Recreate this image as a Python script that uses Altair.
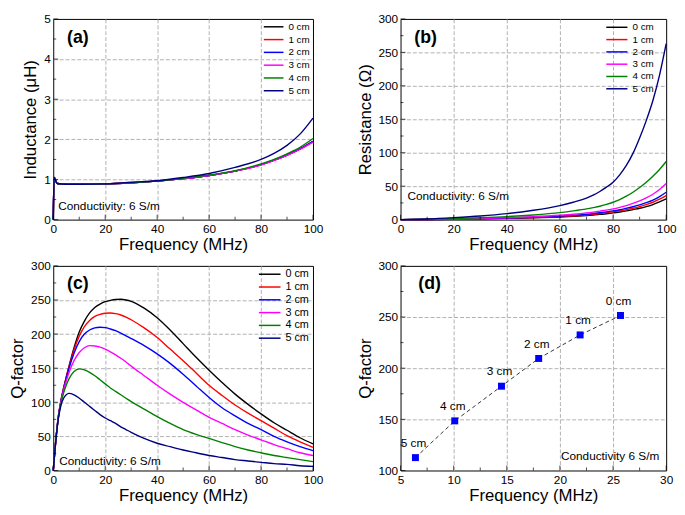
import altair as alt
import pandas as pd

FONT = "Liberation Sans"
DIST = ["0 cm", "1 cm", "2 cm", "3 cm", "4 cm", "5 cm"]
COLORS = ["#000000", "#FF0000", "#0000FF", "#FF00FF", "#008000", "#000080"]

# ---------------- (a) Inductance (uH) ----------------
IND_F = [0, 0.3, 1.5, 5, 10, 20, 30, 40, 50, 60, 70, 80, 85, 90, 95, 100]
IND_0 = [0, 1.05, 0.90, 0.88, 0.88, 0.89, 0.92, 0.96, 1.02, 1.10, 1.21, 1.37, 1.48, 1.61, 1.76, 1.95]
IND_1 = [0, 1.05, 0.90, 0.88, 0.88, 0.89, 0.92, 0.96, 1.02, 1.10, 1.21, 1.37, 1.48, 1.61, 1.76, 1.94]
IND_2 = [0, 1.05, 0.90, 0.88, 0.88, 0.89, 0.92, 0.96, 1.02, 1.10, 1.21, 1.37, 1.48, 1.61, 1.76, 1.95]
IND_3 = [0, 1.05, 0.90, 0.88, 0.88, 0.89, 0.92, 0.96, 1.02, 1.10, 1.21, 1.36, 1.47, 1.60, 1.75, 1.93]
IND_4 = [0, 1.05, 0.90, 0.88, 0.88, 0.89, 0.92, 0.96, 1.03, 1.11, 1.22, 1.39, 1.50, 1.64, 1.80, 2.02]
IND_5 = [0, 1.05, 0.90, 0.88, 0.88, 0.89, 0.93, 0.97, 1.05, 1.15, 1.30, 1.50, 1.65, 1.85, 2.13, 2.53]

# ---------------- (b) Resistance (Ohm) ----------------
RES_F = [0, 10, 20, 30, 40, 50, 60, 65, 70, 72.5, 75, 77.5, 80, 82.5, 85, 87.5, 90, 92.5, 95, 97.5, 100]
RES_0 = [0, 0.2, 0.7, 1.3, 1.9, 2.6, 4.0, 4.9, 6.0, 6.8, 7.8, 8.8, 10, 11.4, 13, 15, 17, 19.5, 22.5, 26.5, 31]
RES_1 = [0, 0.2, 0.8, 1.4, 2.1, 3.0, 4.6, 5.6, 7.0, 8.0, 9.0, 10.2, 11.5, 13.1, 15, 17, 19.5, 22.5, 26, 30.5, 36]
RES_2 = [0, 0.2, 0.8, 1.5, 2.3, 3.5, 5.3, 6.5, 8.0, 9.1, 10.3, 11.6, 13, 14.8, 17, 19.3, 22, 25.3, 29, 34.5, 41]
RES_3 = [0, 0.3, 1.0, 1.8, 2.8, 4.3, 6.5, 8.0, 10, 11.3, 12.8, 14.3, 16, 18.3, 21, 24.3, 28, 32.5, 38, 45, 54]
RES_4 = [0, 0.5, 1.5, 2.8, 4.5, 7.0, 10.5, 13, 16, 17.9, 20, 22.8, 26, 30, 35, 41, 48, 56, 65, 75, 87]
RES_5 = [0, 1.0, 3.0, 5.5, 9.0, 14, 21, 26, 32, 36.5, 42, 48.5, 56, 67, 81, 99, 122, 148, 178, 216, 263]

# ---------------- (c) Q-factor vs frequency ----------------
Q_F = [0, 1, 2, 3, 4, 5, 6, 8, 10, 12, 14, 16, 18, 20, 22, 24, 26, 28, 30,
       35, 40, 45, 50, 55, 60, 65, 70, 75, 80, 85, 90, 95, 100]
Q_0 = [0, 45, 80, 103, 121, 137, 152, 180, 203, 219, 231, 239, 244, 247.5, 249.5, 250.7, 251, 250, 248,
       238, 224, 206, 186, 166, 147, 129, 112, 97, 83, 70, 59, 48, 39]
Q_1 = [0, 45, 80, 103, 121, 137, 151, 177, 197, 211, 220, 226, 229, 230.5, 231, 230, 228, 225, 221,
       209, 195, 178, 161, 143, 125, 110, 96, 84, 73, 62, 51, 42, 34]
Q_2 = [0, 45, 80, 102, 120, 135, 149, 172, 189, 200, 206, 209, 210, 209.5, 207.5, 205, 201.5, 197.5, 193.5,
       183, 171, 157, 141, 124, 107, 92, 80, 69, 60, 50, 42, 35, 29]
Q_3 = [0, 45, 79, 101, 118, 131, 143, 161, 173, 180, 183, 182.5, 181, 178, 174, 169.5, 164.5, 159, 153,
       139, 125, 112, 100, 89, 78, 69, 60, 52, 45, 38, 32, 26, 22]
Q_4 = [0, 45, 78, 99, 114, 125, 134, 145, 149, 147.5, 144, 139, 133, 127, 121, 116, 111, 106, 101,
       90, 79, 69, 60, 53, 47, 41, 35, 30, 26, 22, 19, 16, 13]
Q_5 = [0, 44, 77, 96, 106, 111, 113, 111, 106, 100, 94, 88, 82, 77, 73, 69, 64, 60, 56,
       47, 40, 35, 30, 26, 22, 19, 16, 14, 12, 10, 9, 7, 6]

# ---------------- (d) Peak Q vs peak frequency ----------------
PK_LABEL = ["5 cm", "4 cm", "3 cm", "2 cm", "1 cm", "0 cm"]
PK_F = [6.4, 10.1, 14.5, 18.0, 21.9, 25.7]
PK_Q = [112.6, 148.5, 182.4, 209.5, 232.5, 251.5]

COND_TEXT = "Conductivity: 6 S/m"
COND_TEXT_D = "Conductivity 6 S/m"

W1, W2 = 264, 270
H1, H2 = 204, 208
GRID_COLOR = "#b0b0b0"


def long_df(freqs, series):
    rows = []
    for name, vals in zip(DIST, series):
        for f, v in zip(freqs, vals):
            rows.append({"f": f, "v": v, "d": name})
    return pd.DataFrame(rows)


def grid_op(lo, hi):
    return {"condition": {"test": f"datum.value <= {lo} || datum.value >= {hi}", "value": 0},
            "value": 1}


def xaxis(vals, title="Frequency (MHz)"):
    return alt.Axis(values=vals, title=title, grid=True, gridDash=[4, 2], gridColor=GRID_COLOR,
                    gridOpacity=grid_op(vals[0], vals[-1]),
                    ticks=False, tickSize=0, domain=False, labelFlush=False, labelOverlap=False,
                    labelFontSize=12, titleFontSize=17, labelPadding=4, titlePadding=2,
                    titleFontWeight="normal", labelColor="black", titleColor="black",
                    labelFont=FONT, titleFont=FONT)


def yaxis(vals, title):
    return alt.Axis(values=vals, title=title, grid=True, gridDash=[4, 2], gridColor=GRID_COLOR,
                    gridOpacity=grid_op(vals[0], vals[-1]),
                    ticks=False, tickSize=0, domain=False, labelOverlap=False,
                    labelFontSize=12, titleFontSize=17, labelPadding=3, titlePadding=4,
                    titleFontWeight="normal", labelColor="black", titleColor="black",
                    labelFont=FONT, titleFont=FONT)


def tick_layers(xdom, xmaj, xmin, xax, ydom, ymaj, ymin, yax, H):
    layers = []
    for vals, ln in ((xmaj, 5), (xmin, 3)):
        layers.append(alt.Chart(pd.DataFrame({"tv": vals})).mark_tick(
            size=ln, thickness=1, color="black", orient="vertical").encode(
            x=alt.X("tv:Q", scale=alt.Scale(domain=xdom, nice=False, zero=False), axis=xax),
            y=alt.value(H - ln / 2)))
    for vals, ln in ((ymaj, 5), (ymin, 3)):
        layers.append(alt.Chart(pd.DataFrame({"tw": vals})).mark_tick(
            size=ln, thickness=1, color="black", orient="horizontal").encode(
            y=alt.Y("tw:Q", scale=alt.Scale(domain=ydom, nice=False, zero=False), axis=yax),
            x=alt.value(ln / 2)))
    return layers


def text_layer(txt, x, y, size, bold=False, align="left"):
    return alt.Chart(pd.DataFrame({"t": [txt]})).mark_text(
        align=align, baseline="middle", fontSize=size, font=FONT,
        fontWeight="bold" if bold else "normal", color="black").encode(
        x=alt.value(x), y=alt.value(y), text="t:N")


def legend(sym_len, font_size, row_pad, right_gap, ly, W):
    # the stroke path spans twice the nominal symbol width, centred on it
    q = sym_len / 4.0
    return alt.Legend(title=None, orient="none", legendX=W - right_gap + q, legendY=ly, padding=0,
                      symbolType="M-2,0H2", symbolSize=(sym_len / 2.0) ** 2,
                      symbolStrokeWidth=1.5, symbolFillColor="transparent",
                      labelFontSize=font_size, labelFont=FONT, labelColor="black",
                      labelOffset=q + 4, rowPadding=row_pad)


def curve_panel(freqs, series, ydom, yvals, ytitle, ymin, label, W, H, leg, cond_x, cond_y):
    df = long_df(freqs, series)
    xdom = [0, 100]
    xax = xaxis([0, 20, 40, 60, 80, 100])
    yax = yaxis(yvals, ytitle)
    lines = alt.Chart(df).mark_line(strokeWidth=1.4, interpolate="monotone").encode(
        x=alt.X("f:Q", scale=alt.Scale(domain=xdom, nice=False, zero=False), axis=xax),
        y=alt.Y("v:Q", scale=alt.Scale(domain=ydom, nice=False, zero=False), axis=yax),
        color=alt.Color("d:N", scale=alt.Scale(domain=DIST, range=COLORS), legend=leg),
    )
    layers = [lines]
    layers += tick_layers(xdom, [0, 20, 40, 60, 80, 100], [10, 30, 50, 70, 90], xax,
                          ydom, yvals, ymin, yax, H)
    layers.append(text_layer(label, 14, 19, 18, bold=True))
    layers.append(text_layer(COND_TEXT, cond_x, cond_y, 12))
    return alt.layer(*layers).properties(width=W, height=H)


panel_a = curve_panel(IND_F, [IND_0, IND_1, IND_2, IND_3, IND_4, IND_5], [0, 5],
                      [0, 1, 2, 3, 4, 5], "Inductance (\u03bcH)", [0.5, 1.5, 2.5, 3.5, 4.5],
                      "(a)", W1, H1, legend(20, 10, 2, 51, 2, W1), 5, H1 - 14)
panel_b = curve_panel(RES_F, [RES_0, RES_1, RES_2, RES_3, RES_4, RES_5], [0, 300],
                      [0, 50, 100, 150, 200, 250, 300], "Resistance (\u03a9)",
                      [25, 75, 125, 175, 225, 275],
                      "(b)", W2, H1, legend(21.5, 10, 0.5, 62, 2, W2), 7, H1 - 24)
panel_c = curve_panel(Q_F, [Q_0, Q_1, Q_2, Q_3, Q_4, Q_5], [0, 300],
                      [0, 50, 100, 150, 200, 250, 300], "Q-factor",
                      [25, 75, 125, 175, 225, 275],
                      "(c)", W1, H2, legend(22, 11, 1, 56, 2, W1), 6, H2 - 10)

# panel d
df_d = pd.DataFrame({"f": PK_F, "q": PK_Q, "lab": PK_LABEL})
xdom_d, ydom_d = [5, 30], [100, 300]
xax_d = xaxis([5, 10, 15, 20, 25, 30])
yax_d = yaxis([100, 150, 200, 250, 300], "Q-factor")
xs_d = alt.X("f:Q", scale=alt.Scale(domain=xdom_d, nice=False, zero=False), axis=xax_d)
ys_d = alt.Y("q:Q", scale=alt.Scale(domain=ydom_d, nice=False, zero=False), axis=yax_d)
d_line = alt.Chart(df_d).mark_line(color="#333333", strokeWidth=1, strokeDash=[4, 3]).encode(x=xs_d, y=ys_d)
d_pts = alt.Chart(df_d).mark_square(size=50, color="#0000FF", opacity=1).encode(x=xs_d, y=ys_d)
d_txt = alt.Chart(df_d).mark_text(fontSize=12, font=FONT, color="black", dx=-2, dy=-15).encode(
    x=xs_d, y=ys_d, text="lab:N")
d_layers = [d_line, d_pts, d_txt]
d_layers += tick_layers(xdom_d, [5, 10, 15, 20, 25, 30], [7.5, 12.5, 17.5, 22.5, 27.5], xax_d,
                        ydom_d, [100, 150, 200, 250, 300], [125, 175, 225, 275], yax_d, H2)
d_layers.append(text_layer("(d)", 18, 19, 18, bold=True))
d_layers.append(text_layer(COND_TEXT_D, W2 - 7, H2 - 15, 12, align="right"))
panel_d = alt.layer(*d_layers).properties(width=W2, height=H2)

chart = alt.concat(panel_a, panel_b, panel_c, panel_d, columns=2,
                   spacing={"row": 47, "column": 89}, bounds="flush", align="each"
                   ).resolve_scale(color="independent").properties(padding=0
                   ).configure(font=FONT).configure_view(stroke="black", strokeWidth=1)

chart.save("out.html", embed_options={"renderer": "svg", "actions": False})
